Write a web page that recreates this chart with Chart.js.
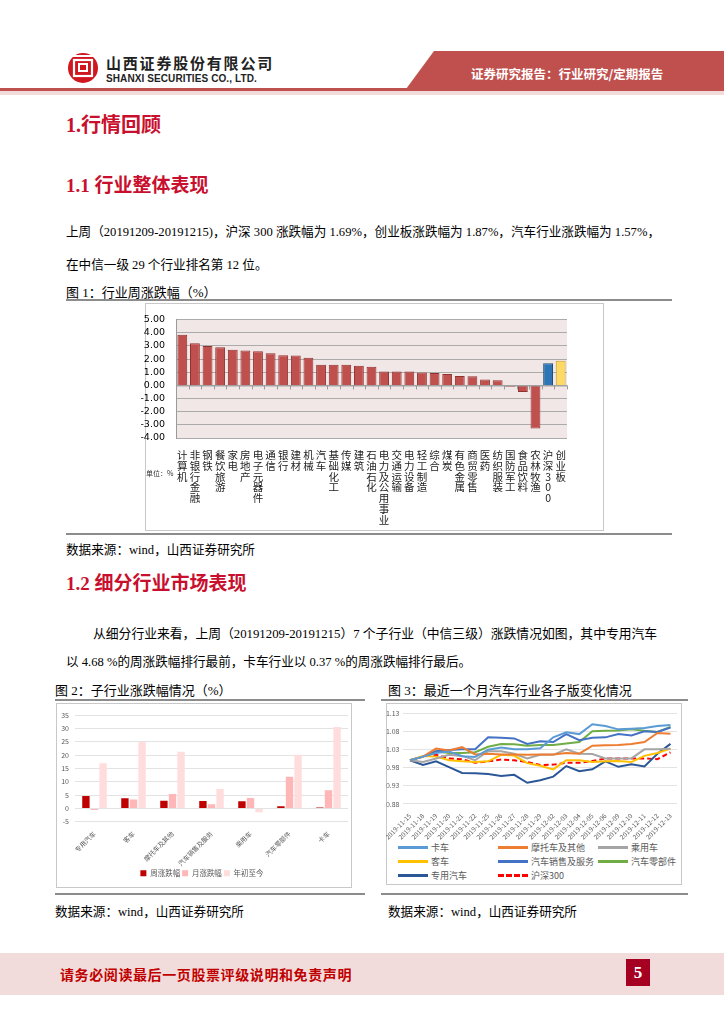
<!DOCTYPE html>
<html>
<head>
<meta charset="utf-8">
<script src="https://cdn.jsdelivr.net/npm/chart.js@4.4.1/dist/chart.umd.min.js"></script>
<style>
  html, body { margin: 0; padding: 0; background: #fff; }
  #page { position: relative; width: 724px; height: 1024px; overflow: hidden;
          font-family: 'Liberation Serif', 'Noto Sans CJK SC', serif; color: #000; }
  .abs { position: absolute; white-space: nowrap; }
  .h1 { font-size: 20px; font-weight: bold; color: #C8102E; }
  .h2 { font-size: 19px; font-weight: bold; color: #C8102E; }
  .p { font-size: 12.6px; }
  .cap { font-size: 13px; }
  .box { position: absolute; border: 1px solid #C8C8C8; box-sizing: border-box; }
  .rule { position: absolute; height: 0; border-top: 2px solid #8C8C8C; }
  #legend3 { position: absolute; left: 398px; top: 841px; width: 290px;
             display: grid; grid-template-columns: 100px 100px 90px; row-gap: 1px;
             font-family: 'Noto Sans CJK SC', sans-serif; font-size: 9px; color: #595959; }
  #legend3 div { display: flex; align-items: center; height: 13px; }
  #legend3 i { display: inline-block; width: 30px; height: 0; margin-right: 3px; }
</style>
</head>
<body>
<div id="page">
  <!-- 页眉 -->
  <svg class="abs" style="left:0;top:0" width="724" height="100">
    <circle cx="83" cy="68" r="15" fill="#D0161E"/>
    <rect x="74" y="60" width="18" height="16" fill="none" stroke="#fff" stroke-width="2.2"/>
    <rect x="79" y="64" width="8" height="7" fill="none" stroke="#fff" stroke-width="2"/>
    <line x1="70" y1="56" x2="96" y2="56" stroke="#fff" stroke-width="2"/>
    <polygon points="434,51 724,51 724,89 406,89" fill="#C0504D"/>
    <rect x="0" y="88" width="724" height="3" fill="#C0504D"/>
    <rect x="0" y="91" width="724" height="4" fill="#F2DCDB"/>
  </svg>
  <div class="abs" style="left:106px;top:55px;font:bold 15px/15px 'Noto Sans CJK SC';letter-spacing:1.8px;color:#222">山西证券股份有限公司</div>
  <div class="abs" style="left:106px;top:74px;font:bold 10px/10px 'Liberation Sans';letter-spacing:0.1px;color:#222">SHANXI SECURITIES CO., LTD.</div>
  <div class="abs" style="left:471px;top:64px;font:bold 12.5px 'Noto Sans CJK SC';color:#fff">证券研究报告：行业研究/定期报告</div>

  <div class="abs h1" style="left:66px;top:109px">1.行情回顾</div>
  <div class="abs h2" style="left:66px;top:170px">1.1 行业整体表现</div>
  <div class="abs p" style="left:66px;top:221px">上周（20191209-20191215)，沪深 300 涨跌幅为 1.69%，创业板涨跌幅为 1.87%，汽车行业涨跌幅为 1.57%，</div>
  <div class="abs p" style="left:66px;top:254px">在中信一级 29 个行业排名第 12 位。</div>
  <div class="abs cap" style="left:66px;top:282px">图 1：行业周涨跌幅（%）</div>
  <div class="rule" style="left:66px;top:299px;width:606px"></div>

  <div class="box" style="left:145px;top:303px;width:459px;height:228px"></div>
  <div class="abs" style="left:135px;top:303px;width:468px;height:227px"><canvas id="chart1"></canvas></div>
  <div class="abs" style="left:146px;top:468px;font:7px 'Noto Sans CJK SC';color:#333">单位：%</div>
  <div class="rule" style="left:66px;top:533px;width:606px"></div>

  <div class="abs p" style="left:66px;top:539px">数据来源：wind，山西证券研究所</div>
  <div class="abs h2" style="left:66px;top:568px">1.2 细分行业市场表现</div>
  <div class="abs p" style="left:93px;top:623px;font-size:12.8px">从细分行业来看，上周（20191209-20191215）7 个子行业（中信三级）涨跌情况如图，其中专用汽车</div>
  <div class="abs p" style="left:66px;top:651px">以 4.68 %的周涨跌幅排行最前，卡车行业以 0.37 %的周涨跌幅排行最后。</div>

  <div class="abs cap" style="left:55px;top:680px">图 2：子行业涨跌幅情况（%）</div>
  <div class="rule" style="left:55px;top:699px;width:310px"></div>
  <div class="box" style="left:56px;top:703px;width:296px;height:185px"></div>
  <div class="abs" style="left:56px;top:703px;width:295px;height:184px"><canvas id="chart2"></canvas></div>

  <div class="abs cap" style="left:388px;top:680px">图 3：最近一个月汽车行业各子版变化情况</div>
  <div class="rule" style="left:381px;top:699px;width:307px"></div>
  <div class="box" style="left:386px;top:703px;width:296px;height:182px"></div>
  <div class="abs" style="left:386px;top:703px;width:295px;height:138px"><canvas id="chart3"></canvas></div>
  <div id="legend3"></div>

  <div class="rule" style="left:55px;top:893px;width:310px"></div>
  <div class="rule" style="left:381px;top:893px;width:307px"></div>
  <div class="abs p" style="left:55px;top:901px">数据来源：wind，山西证券研究所</div>
  <div class="abs p" style="left:388px;top:901px">数据来源：wind，山西证券研究所</div>

  <!-- 页脚 -->
  <div class="abs" style="left:0;top:953px;width:724px;height:42px;background:#F2DCDB"></div>
  <div class="abs" style="left:60px;top:964px;font:bold 14px 'Noto Sans CJK SC';color:#C00000;letter-spacing:0.6px">请务必阅读最后一页股票评级说明和免责声明</div>
  <div class="abs" style="left:626px;top:959px;width:24px;height:27px;background:#A50021;color:#fff;font:bold 17px 'Liberation Serif';text-align:center;line-height:27px">5</div>
</div>

<script>
// 图1：行业周涨跌幅
const industries = ['计算机', '非银行金融', '钢铁', '餐饮旅游', '家电', '房地产', '电子元器件', '通信', '银行', '建材',
    '机械', '汽车', '基础化工', '传媒', '建筑', '石油石化', '电力及公用事业', '交通运输', '电力设备', '轻工制造',
    '综合', '煤炭', '有色金属', '商贸零售', '医药', '纺织服装', '国防军工', '食品饮料', '农林牧渔', '沪深300', '创业板'];
const weeklyChg = [3.85, 3.20, 3.00, 2.90, 2.72, 2.65, 2.60, 2.45, 2.30, 2.28,
    2.10, 1.57, 1.58, 1.57, 1.50, 1.42, 1.06, 1.06, 1.05, 0.98,
    0.95, 0.87, 0.72, 0.70, 0.45, 0.40, -0.10, -0.50, -3.28, 1.69, 1.87];

// 图2：子行业涨跌幅
const subIndustries = ['专用汽车', '客车', '摩托车及其他', '汽车销售及服务', '乘用车', '汽车零部件', '卡车'];
const subWeek = [4.68, 3.80, 2.85, 2.75, 2.70, 0.85, 0.37];
const subMonth = [-0.60, 3.35, 5.40, 1.55, 3.95, 11.90, 6.80];
const subYtd = [16.90, 24.90, 21.20, 7.30, -1.45, 20.10, 30.50];

// 图3：最近一个月各子版走势
const dates = ['2019-11-15', '2019-11-18', '2019-11-19', '2019-11-20', '2019-11-21', '2019-11-22', '2019-11-25',
    '2019-11-26', '2019-11-27', '2019-11-28', '2019-11-29', '2019-12-02', '2019-12-03', '2019-12-04',
    '2019-12-05', '2019-12-06', '2019-12-09', '2019-12-10', '2019-12-11', '2019-12-12', '2019-12-13'];
const truck     = [1.000, 1.010, 1.020, 1.024, 1.011, 1.009, 1.029, 1.035, 1.030, 1.030, 1.033, 1.063, 1.077, 1.072, 1.099, 1.094, 1.085, 1.087, 1.089, 1.094, 1.097];
const motor     = [1.000, 1.010, 1.032, 1.027, 1.036, 1.016, 1.018, 1.016, 1.016, 1.015, 1.016, 1.016, 1.020, 1.018, 1.040, 1.041, 1.042, 1.045, 1.050, 1.075, 1.073];
const passenger = [1.000, 0.995, 1.005, 1.015, 1.012, 1.000, 1.025, 1.025, 1.018, 1.005, 1.015, 1.015, 1.030, 1.018, 1.017, 1.005, 1.005, 1.005, 1.030, 1.030, 1.032];
const bus       = [1.000, 1.012, 1.010, 1.000, 0.997, 0.995, 0.997, 1.015, 1.013, 0.992, 0.985, 0.975, 1.000, 1.000, 0.995, 0.997, 0.998, 0.995, 1.012, 1.020, 1.032];
const dealer    = [1.000, 1.010, 1.025, 1.028, 1.030, 1.030, 1.063, 1.062, 1.060, 1.045, 1.052, 1.050, 1.072, 1.055, 1.062, 1.063, 1.072, 1.068, 1.080, 1.078, 1.090];
const parts     = [1.000, 1.010, 1.025, 1.020, 1.020, 1.022, 1.037, 1.045, 1.044, 1.040, 1.042, 1.042, 1.046, 1.050, 1.080, 1.081, 1.082, 1.085, 1.081, 1.078, 1.092];
const special   = [1.000, 0.987, 0.997, 0.981, 0.965, 0.964, 0.962, 0.957, 0.960, 0.938, 0.945, 0.955, 0.984, 0.970, 0.975, 0.997, 0.982, 0.989, 0.983, 1.018, 1.045];
const hs300     = [1.000, 1.010, 1.015, 1.005, 1.003, 0.993, 0.997, 1.002, 1.000, 0.995, 0.987, 0.988, 0.993, 0.993, 0.998, 1.005, 1.005, 1.005, 1.005, 1.003, 1.022];

Chart.defaults.animation = false;
Chart.defaults.font.family = "'Noto Sans CJK SC', sans-serif";

// 画图区背景
const plotBg = {
    id: 'plotBg',
    beforeDraw(chart, args, opts) {
        if (!opts.color) return;
        const a = chart.chartArea;
        chart.ctx.save();
        chart.ctx.fillStyle = opts.color;
        chart.ctx.fillRect(a.left, a.top, a.width, a.height);
        chart.ctx.restore();
    }
};

// 0 轴和刻度线（Excel 样式）
const zeroAxis = {
    id: 'zeroAxis',
    afterDatasetsDraw(chart, args, opts) {
        if (!opts.show) return;
        const x = chart.scales.x, y = chart.scales.y, ctx = chart.ctx;
        const y0 = y.getPixelForValue(0);
        ctx.save();
        ctx.strokeStyle = '#9A9A9A';
        ctx.lineWidth = 1;
        ctx.beginPath();
        ctx.moveTo(x.left, y0 + 0.5);
        ctx.lineTo(x.right, y0 + 0.5);
        const n = chart.data.labels.length;
        const step = (x.right - x.left) / n;
        for (let i = 0; i <= n; i++) {
            const px = Math.round(x.left + step * i) + 0.5;
            ctx.moveTo(px, y0);
            ctx.lineTo(px, y0 + 4);
        }
        ctx.stroke();
        ctx.restore();
    }
};

// 竖排文字
function vertical(s) {
    return s.split('');
}

const barColors = industries.map(n => n === '沪深300' ? '#2E75B6' : (n === '创业板' ? '#FFD966' : '#C0504D'));
const barBorders = industries.map(n => n === '沪深300' ? '#1F4E79' : (n === '创业板' ? '#C9A227' : '#8E3330'));

new Chart(document.getElementById('chart1'), {
    type: 'bar',
    data: {
        labels: industries.map(vertical),
        datasets: [{
            data: weeklyChg,
            backgroundColor: barColors,
            borderColor: barBorders,
            borderWidth: 1,
            barPercentage: 0.78,
            categoryPercentage: 1
        }]
    },
    options: {
        responsive: true,
        maintainAspectRatio: false,
        layout: { padding: { top: 8, right: 36, bottom: 2, left: 0 } },
        plugins: {
            legend: { display: false },
            tooltip: { enabled: false },
            plotBg: { color: '#F2E7E7' },
            zeroAxis: { show: true }
        },
        scales: {
            x: {
                grid: { display: false },
                border: { display: false },
                ticks: {
                    maxRotation: 0, minRotation: 0, autoSkip: false, padding: 4,
                    color: '#222',
                    font: { size: 10.5, lineHeight: 1.02 }
                },
                afterFit(scale) { scale.height = 90; }
            },
            y: {
                min: -4, max: 5,
                ticks: {
                    stepSize: 1, autoSkip: false, color: '#000', padding: 11,
                    font: { family: "'DejaVu Sans'", size: 9.5 },
                    callback: v => v.toFixed(2)
                },
                grid: { color: '#ABABAB', lineWidth: 1, drawTicks: false },
                border: { display: true, color: '#9A9A9A' },
                afterFit(scale) { scale.width = 41; }
            }
        }
    },
    plugins: [plotBg, zeroAxis]
});

// 图2
new Chart(document.getElementById('chart2'), {
    type: 'bar',
    data: {
        labels: subIndustries,
        datasets: [
            { label: '周涨跌幅', data: subWeek, backgroundColor: '#C00000' },
            { label: '月涨跌幅', data: subMonth, backgroundColor: '#FFB6B6' },
            { label: '年初至今', data: subYtd, backgroundColor: '#FFDDDD' }
        ]
    },
    options: {
        responsive: true,
        maintainAspectRatio: false,
        layout: { padding: { top: 12, right: 3, bottom: 0, left: 0 } },
        datasets: { bar: { barPercentage: 0.86, categoryPercentage: 0.66 } },
        plugins: {
            tooltip: { enabled: false },
            legend: {
                position: 'bottom',
                labels: { boxWidth: 6, boxHeight: 6, padding: 2, color: '#595959', font: { size: 7.5 } }
            }
        },
        scales: {
            x: {
                grid: { display: false },
                border: { display: false },
                ticks: { minRotation: 45, maxRotation: 45, autoSkip: false, padding: 0, color: '#595959', font: { size: 6.5 } }
            },
            y: {
                min: -5, max: 35,
                ticks: { stepSize: 5, autoSkip: false, color: '#595959', padding: 6, font: { size: 7 } },
                grid: { color: '#E3E3E3', drawTicks: false },
                border: { display: false },
                afterFit(scale) { scale.width = 19; }
            }
        }
    }
});

// 图3
const series3 = [
    { label: '卡车', data: truck, color: '#5B9BD5' },
    { label: '摩托车及其他', data: motor, color: '#ED7D31' },
    { label: '乘用车', data: passenger, color: '#A5A5A5' },
    { label: '客车', data: bus, color: '#FFC000' },
    { label: '汽车销售及服务', data: dealer, color: '#4472C4' },
    { label: '汽车零部件', data: parts, color: '#70AD47' },
    { label: '专用汽车', data: special, color: '#2B5797' },
    { label: '沪深300', data: hs300, color: '#FF0000', dash: [5, 3] }
];

const chart3 = new Chart(document.getElementById('chart3'), {
    type: 'line',
    data: {
        labels: dates,
        datasets: series3.map(s => ({
            label: s.label,
            data: s.data,
            borderColor: s.color,
            backgroundColor: s.color,
            borderWidth: 2,
            borderDash: s.dash || [],
            pointRadius: 0,
            tension: 0
        }))
    },
    options: {
        responsive: true,
        maintainAspectRatio: false,
        layout: { padding: { top: 10, right: 4, bottom: 0, left: 0 } },
        plugins: { legend: { display: false }, tooltip: { enabled: false } },
        scales: {
            x: {
                offset: true,
                grid: { display: false },
                border: { display: false },
                ticks: { minRotation: 45, maxRotation: 45, autoSkip: false, padding: 0, color: '#595959', font: { size: 6.5 } }
            },
            y: {
                min: 0.88, max: 1.13,
                ticks: { stepSize: 0.05, autoSkip: false, color: '#595959', padding: 4, font: { size: 7 }, callback: v => v.toFixed(2) },
                grid: { color: '#E3E3E3', drawTicks: false },
                border: { display: false },
                afterFit(scale) { scale.width = 17; }
            }
        }
    }
});

// 图3 图例（三列排布）
const legend3 = document.getElementById('legend3');
chart3.data.datasets.forEach(ds => {
    const item = document.createElement('div');
    const mark = document.createElement('i');
    const style = ds.borderDash.length ? 'dashed' : 'solid';
    mark.style.borderTop = '3px ' + style + ' ' + ds.borderColor;
    item.appendChild(mark);
    item.appendChild(document.createTextNode(ds.label));
    legend3.appendChild(item);
});
</script>
</body>
</html>
